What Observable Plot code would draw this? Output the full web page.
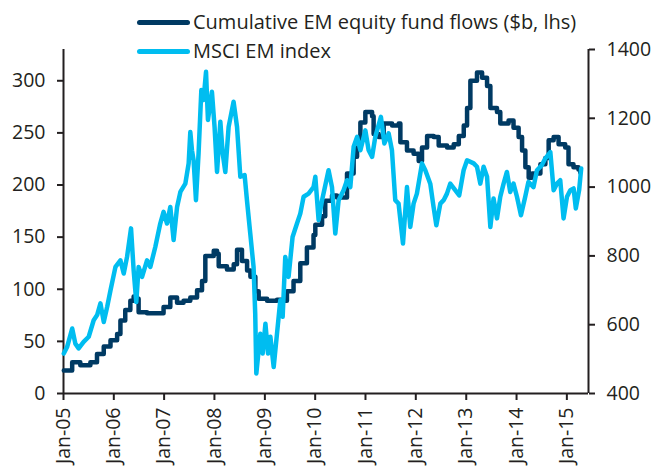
<!DOCTYPE html>
<html><head><meta charset="utf-8">
<script src="https://cdn.jsdelivr.net/npm/d3@7"></script>
<script src="https://cdn.jsdelivr.net/npm/@observablehq/plot@0.6"></script>
<style>
body{margin:0;background:#fff;}
#wrap{position:relative;width:655px;height:468px;font-family:"Open Sans",sans-serif;}
.leg{position:absolute;left:137px;display:flex;align-items:center;font-size:20px;color:#231f20;white-space:nowrap;line-height:26px;}
.leg .sw{display:inline-block;width:53px;height:5px;border-radius:3px;margin-right:3px;}
</style></head>
<body><div id="wrap"></div>
<script>
// Cumulative EM equity fund flows ($b, left axis)
const flowDates = ["2005-01-03","2005-03-05","2005-05-03","2005-07-15","2005-09-01","2005-10-20","2005-12-08","2006-01-25","2006-02-18","2006-03-25","2006-05-01","2006-05-25","2006-06-18","2006-06-30","2006-08-30","2006-11-10","2006-12-28","2007-02-15","2007-04-05","2007-05-22","2007-07-10","2007-08-28","2007-10-03","2007-10-27","2007-12-27","2008-01-20","2008-02-01","2008-04-01","2008-05-20","2008-06-13","2008-07-19","2008-08-25","2008-09-18","2008-10-24","2008-11-17","2009-01-17","2009-03-30","2009-05-05","2009-06-10","2009-07-28","2009-09-15","2009-11-02","2009-12-20","2010-01-02","2010-02-20","2010-03-15","2010-05-03","2010-06-08","2010-08-20","2010-10-07","2010-11-01","2010-11-25","2010-12-31","2011-02-18","2011-03-01","2011-04-07","2011-05-13","2011-07-13","2011-08-30","2011-09-11","2011-10-29","2011-12-16","2012-01-22","2012-02-15","2012-03-23","2012-05-10","2012-06-15","2012-08-15","2012-10-02","2012-11-08","2012-12-14","2013-01-07","2013-01-31","2013-03-20","2013-04-26","2013-06-01","2013-06-25","2013-08-12","2013-09-05","2013-11-04","2013-12-10","2014-01-16","2014-02-10","2014-03-06","2014-03-30","2014-04-23","2014-06-23","2014-07-29","2014-08-22","2014-09-27","2014-11-02","2014-12-20","2015-01-13","2015-02-18","2015-03-26","2015-04-08"];
const flowValues = [22,30,27,30,38,45,51,57,70,80,89,93,91,78,77,77,83,92,87,89,92,99,108,132,137,134,122,119,124,138,127,118,112,98,91,89,90,89,98,108,125,140,152,162,170,185,190,188,211,227,236,260,270,266,249,246,259,257,259,241,233,230,223,236,247,246,238,236,239,247,257,274,300,308,303,295,274,270,259,262,255,246,233,217,207,211,220,226,243,246,239,236,220,217,215,212];

// MSCI EM index (right axis)
const indexDates = ["2005-01-03","2005-01-27","2005-03-05","2005-03-28","2005-04-21","2005-05-27","2005-07-03","2005-08-08","2005-09-02","2005-09-26","2005-10-20","2005-11-14","2005-12-08","2006-01-13","2006-02-18","2006-03-14","2006-04-07","2006-05-06","2006-05-25","2006-06-13","2006-06-30","2006-07-25","2006-08-30","2006-09-23","2006-10-29","2006-12-04","2006-12-28","2007-01-22","2007-02-15","2007-03-11","2007-04-05","2007-04-29","2007-06-04","2007-06-28","2007-07-10","2007-07-22","2007-08-03","2007-08-20","2007-09-08","2007-09-28","2007-10-14","2007-11-01","2007-11-15","2007-12-14","2008-01-02","2008-01-20","2008-02-13","2008-03-01","2008-03-20","2008-04-13","2008-05-19","2008-06-13","2008-07-07","2008-08-07","2008-08-24","2008-09-17","2008-10-11","2008-10-23","2008-10-31","2008-11-29","2008-12-16","2009-01-05","2009-01-24","2009-02-10","2009-03-06","2009-03-30","2009-04-23","2009-05-10","2009-05-29","2009-06-22","2009-07-21","2009-08-22","2009-09-15","2009-10-09","2009-11-14","2009-12-20","2010-01-02","2010-01-26","2010-02-20","2010-04-08","2010-05-03","2010-05-27","2010-06-20","2010-07-26","2010-08-20","2010-09-13","2010-10-07","2010-11-01","2010-11-25","2010-12-31","2011-01-24","2011-02-18","2011-03-13","2011-04-23","2011-05-18","2011-06-18","2011-07-12","2011-08-05","2011-08-29","2011-09-30","2011-10-29","2011-11-22","2011-12-16","2012-01-09","2012-02-15","2012-03-10","2012-04-15","2012-05-09","2012-05-29","2012-06-27","2012-07-21","2012-08-14","2012-09-07","2012-10-13","2012-11-11","2012-12-13","2013-01-07","2013-02-24","2013-03-20","2013-04-13","2013-05-07","2013-06-01","2013-06-25","2013-07-18","2013-08-12","2013-09-05","2013-09-29","2013-10-23","2013-11-16","2013-12-10","2014-01-04","2014-02-02","2014-03-05","2014-03-28","2014-05-04","2014-05-29","2014-07-04","2014-07-28","2014-09-03","2014-09-27","2014-10-21","2014-11-14","2014-12-08","2015-01-02","2015-01-26","2015-02-19","2015-03-07","2015-03-31","2015-04-15"];
const indexValues = [516,535,589,545,531,550,565,613,628,662,608,652,700,768,787,749,797,880,758,666,768,739,787,768,826,894,928,894,942,846,942,986,1010,1069,1160,1107,1078,962,1098,1282,1253,1335,1195,1277,1175,1044,1190,1098,1044,1175,1248,1175,1030,1035,962,865,768,632,458,574,516,603,516,565,477,574,671,623,797,739,855,894,923,972,981,1000,1030,904,962,1049,1000,865,962,991,1020,1000,1117,1146,1107,1165,1107,1088,1146,1204,1127,1156,1107,962,952,836,1000,884,952,981,1069,1049,1010,942,889,952,962,981,1010,991,976,1049,1078,1069,1059,1010,1059,1030,884,967,909,972,1010,1044,986,1010,972,918,972,1015,1000,1049,1064,1083,1102,991,1010,1020,909,972,991,996,938,991,1054];

const xTickYears = [2005,2006,2007,2008,2009,2010,2011,2012,2013,2014,2015];
const leftTicks = [0,50,100,150,200,250,300];
const rightTicks = [400,600,800,1000,1200,1400];
const seriesNames = ["Cumulative EM equity fund flows ($b, lhs)", "MSCI EM index"];
const colors = ["#003a63", "#00bdf0"];

const leftMax = 330, rMin = 400, rMax = 1400;
const toLeft = v => (v - rMin) / (rMax - rMin) * leftMax;
const fromLeft = y => y / leftMax * (rMax - rMin) + rMin;

const flows = flowDates.map((d, i) => ({date: new Date(d), value: flowValues[i]}));
const index = indexDates.map((d, i) => ({date: new Date(d), value: toLeft(indexValues[i])}));

const x0 = new Date("2005-01-01"), x1 = new Date("2015-06-07");
const ink = "#231f20";

const chart = Plot.plot({
  width: 655, height: 468,
  marginLeft: 63, marginRight: 67, marginTop: 49, marginBottom: 75,
  style: {fontFamily: "'Open Sans', sans-serif", fontSize: "19.5px", color: ink, background: "#fff"},
  x: {type: "utc", domain: [x0, x1]},
  y: {domain: [0, leftMax]},
  marks: [
    Plot.axisX(xTickYears.map(y => new Date(Date.UTC(y, 0, 1))), {
      tickRotate: -90, tickSize: 7, tickPadding: 7, strokeWidth: 2, stroke: ink, fill: ink,
      tickFormat: d => "Jan-" + String(d.getUTCFullYear() % 100).padStart(2, "0"), label: null
    }),
    Plot.axisY(leftTicks, {anchor: "left", tickSize: 6, tickPadding: 12, strokeWidth: 2, stroke: ink, fill: ink, label: null}),
    Plot.axisY(rightTicks.map(toLeft), {anchor: "right", tickSize: 6, tickPadding: 12, strokeWidth: 2, stroke: ink, fill: ink,
      tickFormat: d => String(Math.round(fromLeft(d))), label: null}),
    Plot.ruleY([0], {stroke: ink, strokeWidth: 2}),
    Plot.ruleX([x0, x1], {stroke: ink, strokeWidth: 2}),
    Plot.line(flows, {x: "date", y: "value", stroke: colors[0], strokeWidth: 4.5, curve: "step-after"}),
    Plot.line(index, {x: "date", y: "value", stroke: colors[1], strokeWidth: 4.5})
  ]
});

const wrap = document.getElementById("wrap");
wrap.appendChild(chart);
[[22, 0], [51, 1]].forEach(([top, i]) => {
  const d = document.createElement("div");
  d.className = "leg";
  d.style.top = (top - 13) + "px";
  d.innerHTML = `<span class="sw" style="background:${colors[i]}"></span><span>${seriesNames[i]}</span>`;
  wrap.appendChild(d);
});
</script>
</body></html>
